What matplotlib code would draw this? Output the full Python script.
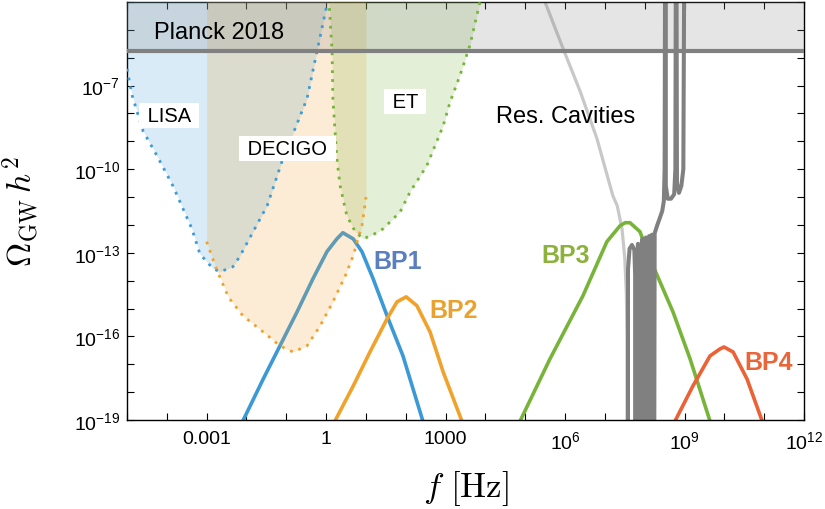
import numpy as np
import matplotlib
matplotlib.use('Agg')
import matplotlib.pyplot as plt
from matplotlib.ticker import FixedLocator, NullFormatter

plt.rcParams['font.family'] = ['Liberation Sans', 'DejaVu Sans']
plt.rcParams['mathtext.fontset'] = 'custom'
plt.rcParams['mathtext.rm'] = 'Liberation Sans'
plt.rcParams['mathtext.it'] = 'Liberation Sans:italic'
plt.rcParams['mathtext.bf'] = 'Liberation Sans:bold'

# all curves are given as log10(f / Hz) and log10(Omega_GW h^2)
lisa_lf = [-5.0, -4.87, -4.6, -4.25, -3.85, -3.37, -3.17, -2.84, -2.66, -2.34, -2.16, -1.48, -1.11, -0.48, -0.23, 0.05]
lisa_lo = [-6.4, -7.36, -8.62, -9.51, -10.59, -12.14, -13.04, -13.57, -13.68, -13.5, -13.11, -11.31, -9.73, -7.47, -5.78, -3.9]

decigo_lf = [-3.0, -2.75, -2.45, -2.09, -1.58, -1.16, -0.83, -0.48, -0.15, 0.17, 0.48, 0.68, 0.80, 0.90, 0.98, 1.0]
decigo_lo = [-12.6, -13.6, -14.6, -15.26, -15.84, -16.34, -16.56, -16.34, -15.62, -14.76, -13.83, -13.11, -12.5, -12.03, -11.24, -11.0]

et_lf = [0.07, 0.15, 0.17, 0.27, 0.35, 0.52, 0.73, 0.93, 1.18, 1.43, 1.86, 2.11, 2.53, 2.94, 3.11, 3.36, 3.61, 3.88]
et_lo = [-3.9, -5.78, -7.47, -9.62, -10.59, -11.67, -12.24, -12.5, -12.35, -12.14, -11.53, -10.81, -9.87, -8.44, -7.6, -6.64, -5.56, -3.9]

planck_bound = 1.7e-6

bp1_lf = [-2.09, -1.58, -1.16, -0.73, -0.33, 0.02, 0.27, 0.42, 0.68, 0.90, 1.18, 1.53, 1.93, 2.43]
bp1_lo = [-19.03, -17.53, -16.34, -15.12, -13.93, -12.96, -12.50, -12.28, -12.50, -12.96, -13.93, -15.26, -16.70, -19.04]

bp2_lf = [0.22, 0.68, 1.10, 1.53, 1.78, 2.01, 2.28, 2.61, 2.94, 3.41]
bp2_lo = [-19.04, -17.78, -16.56, -15.37, -14.76, -14.58, -14.90, -15.84, -17.28, -19.04]

bp3_lf = [4.87, 5.62, 6.45, 7.05, 7.38, 7.51, 7.63, 7.88, 8.21, 8.71, 9.14, 9.64]
bp3_lo = [-19.04, -16.81, -14.54, -12.60, -12.03, -11.92, -11.92, -12.24, -13.47, -15.12, -16.81, -19.04]

bp4_lf = [8.76, 9.21, 9.64, 9.89, 9.99, 10.22, 10.57, 10.95]
bp4_lo = [-19.04, -17.78, -16.70, -16.45, -16.38, -16.56, -17.53, -19.04]

# resonant cavities: broadband envelope and resonant response
cav_lf = [5.47, 5.95, 6.38, 6.80, 7.20, 7.31, 7.43, 7.50, 7.54, 7.556, 7.556]
cav_lo = [-3.9, -5.67, -7.21, -8.90, -10.95, -11.31, -12.14, -13.2, -14.5, -16.0, -20.0]

res_lf = [7.58, 7.58, 7.62, 7.68, 7.74, 7.76, 7.76,
          7.80, 7.80, 7.83, 7.86, 7.87,
          7.91, 7.91, 7.94, 7.97, 7.98,
          8.02, 8.03, 8.06, 8.06,
          8.10, 8.11, 8.13, 8.14,
          8.17, 8.18, 8.20, 8.21,
          8.24, 8.25, 8.31, 8.38, 8.44, 8.48, 8.50, 8.51,
          8.53, 8.53, 8.58, 8.66, 8.74, 8.77, 8.78,
          8.80, 8.81, 8.86, 8.92, 8.97, 8.99]
res_lo = [-20, -13.6, -12.85, -12.72, -12.9, -13.8, -20,
          -20, -13.4, -12.68, -13.2, -20,
          -20, -12.8, -12.50, -12.9, -20,
          -20, -12.45, -12.9, -20,
          -20, -12.40, -12.8, -20,
          -20, -12.35, -12.7, -20,
          -20, -12.30, -12.03, -11.75, -11.50, -11.15, -10.0, -3.5,
          -3.5, -10.6, -11.06, -11.06, -10.9, -10.0, -3.5,
          -3.5, -10.5, -10.85, -10.6, -10.0, -3.5]

x_major = [1e-3, 1, 1e3, 1e6, 1e9, 1e12]
x_labels = ['0.001', '1', '1000', r'$10^{6}$', r'$10^{9}$', r'$10^{12}$']
y_major = [1e-19, 1e-16, 1e-13, 1e-10, 1e-7]
y_labels = [r'$10^{-19}$', r'$10^{-16}$', r'$10^{-13}$', r'$10^{-10}$', r'$10^{-7}$']


def curve(lf, lo):
    return 10.0 ** np.array(lf), 10.0 ** np.array(lo)


fig = plt.figure(figsize=(8.25, 5.1), dpi=100)
ax = fig.add_axes([127 / 825, 1 - 421 / 510, 677 / 825, 418 / 510])
ax.set_xscale('log')
ax.set_yscale('log')
ax.set_xlim(1e-5, 1e12)
ax.set_ylim(1e-19, 1e-4)

# benchmark spectra
bp_data = [(bp1_lf, bp1_lo, '#3b9ad6'), (bp2_lf, bp2_lo, '#f1a22c'),
           (bp3_lf, bp3_lo, '#78b43a'), (bp4_lf, bp4_lo, '#ec6135')]
for lf, lo, c in bp_data:
    f, om = curve(lf, lo)
    ax.plot(f, om, color=c, lw=2.6, zorder=2, solid_capstyle='butt')

# resonant cavities
f, om = curve(cav_lf, cav_lo)
ax.plot(f, om, color='#c8c8c8', lw=2.3, zorder=1.8)
f, om = curve(res_lf, res_lo)
ax.plot(f, om, color='#808080', lw=2.9, zorder=2.5)

# detector sensitivities
for lf, lo, c in [(lisa_lf, lisa_lo, '#3d9bd5'), (decigo_lf, decigo_lo, '#f0a22e'),
                  (et_lf, et_lo, '#76b43a')]:
    f, om = curve(lf, lo)
    ax.fill_between(f, om, 1e-2, color=c, alpha=0.2, lw=0, zorder=3)
    ax.plot(f, om, color=c, lw=2.0, ls=(0, (1.0, 2.2)), zorder=4)

# Planck bound
ax.axhspan(planck_bound, 1e-2, color='#808080', alpha=0.2, lw=0, zorder=3.2)
ax.axhline(planck_bound, color='#808080', lw=3.0, zorder=4.5)

ax.xaxis.set_major_locator(FixedLocator(x_major))
ax.set_xticklabels(x_labels)
ax.xaxis.set_minor_locator(FixedLocator(10.0 ** np.arange(-5, 13)))
ax.xaxis.set_minor_formatter(NullFormatter())
ax.yaxis.set_major_locator(FixedLocator(y_major))
ax.set_yticklabels(y_labels)
ax.yaxis.set_minor_locator(FixedLocator(10.0 ** np.arange(-19, -3)))
ax.yaxis.set_minor_formatter(NullFormatter())
ax.tick_params(which='both', direction='in', top=True, right=True,
               length=5, width=0.8, labelsize=14)
ax.tick_params(axis='x', pad=7)
ax.tick_params(axis='y', pad=5)
for s in ax.spines.values():
    s.set_linewidth(1.0)

ax.set_xlabel(r'$f\ [\mathrm{Hz}]$', fontsize=25, math_fontfamily='cm')
ax.set_ylabel(r'$\Omega_{\rm GW}\,h^2$', fontsize=24, math_fontfamily='cm')
ax.xaxis.set_label_coords(0.5, -0.115)
ax.yaxis.set_label_coords(-0.125, 0.5)

box = dict(boxstyle='square,pad=0.15', fc='white', ec='none')
ax.text(0.136, 0.913, 'Planck 2018', transform=ax.transAxes, fontsize=17,
        ha='center', va='baseline', zorder=6)
ax.text(0.062, 0.716, ' LISA ', transform=ax.transAxes, fontsize=14.5,
        ha='center', va='baseline', bbox=box, zorder=6)
ax.text(0.237, 0.636, ' DECIGO ', transform=ax.transAxes, fontsize=14.5,
        ha='center', va='baseline', bbox=box, zorder=6)
ax.text(0.4106, 0.748, ' ET ', transform=ax.transAxes, fontsize=14.5,
        ha='center', va='baseline', bbox=box, zorder=6)
ax.text(0.6477, 0.712, 'Res. Cavities', transform=ax.transAxes, fontsize=17,
        ha='center', va='baseline', zorder=6)

bp_labels = [('BP1', 0.3996, 0.363, '#5a7fbf'), ('BP2', 0.483, 0.2457, '#e9a22e'),
             ('BP3', 0.6474, 0.377, '#8cb13c'), ('BP4', 0.948, 0.122, '#e8663a')]
for name, x, y, c in bp_labels:
    ax.text(x, y, name, transform=ax.transAxes, fontsize=18, fontweight='bold',
            color=c, ha='center', va='baseline', zorder=6)

fig.savefig('out.png', dpi=100)
